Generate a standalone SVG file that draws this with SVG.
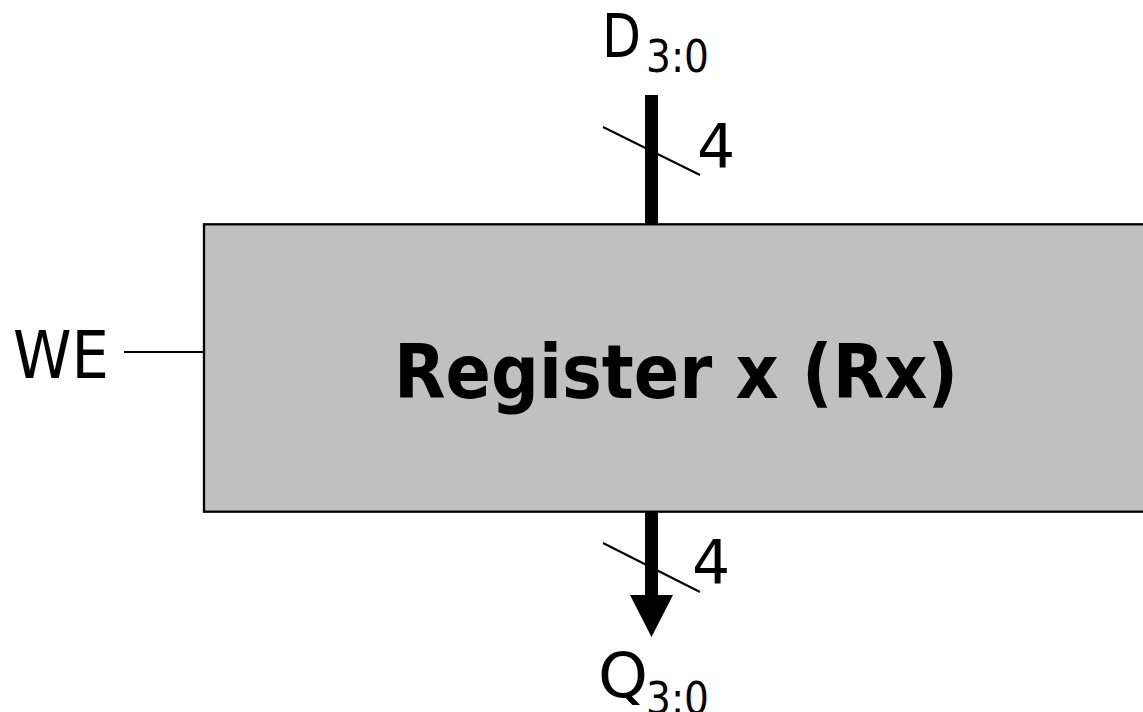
<svg xmlns="http://www.w3.org/2000/svg" width="1143" height="712" viewBox="0 0 1143 712">
  <style>
    .lbl { font-family: "DejaVu Sans", Verdana, sans-serif; fill: #000; }
    .title { font-family: "DejaVu Sans", Verdana, sans-serif; font-weight: bold; fill: #000; }
    .bus { stroke: #000; stroke-width: 13; fill: none; }
    .thin { stroke: #000; stroke-width: 2; fill: none; }
  </style>
  <rect width="1143" height="712" fill="#fff"/>
  <g id="register">
    <rect x="204" y="224.3" width="1000" height="287.4" fill="#C0C0C0" stroke="#000" stroke-width="2.3"/>
    <text class="title" x="676" y="398" font-size="75" text-anchor="middle" textLength="564" lengthAdjust="spacingAndGlyphs">Register x (Rx)</text>
  </g>
  <g id="connectors">
    <line class="bus" x1="651.5" y1="95" x2="651.5" y2="224"/>
    <line class="thin" x1="603" y1="127" x2="700" y2="175"/>
    <line class="bus" x1="651.5" y1="512" x2="651.5" y2="597"/>
    <polygon points="630,595 673,595 651.5,637" fill="#000"/>
    <line class="thin" x1="603" y1="543" x2="700" y2="592"/>
    <line class="thin" x1="124" y1="352" x2="204" y2="352"/>
  </g>
  <g id="label-D">
    <text class="lbl" x="602" y="57" font-size="60" textLength="39" lengthAdjust="spacingAndGlyphs">D</text>
    <text class="lbl" x="646" y="72" font-size="44" textLength="63" lengthAdjust="spacingAndGlyphs">3:0</text>
  </g>
  <g id="label-width-top">
    <text class="lbl" x="697" y="167" font-size="60">4</text>
  </g>
  <g id="label-width-bottom">
    <text class="lbl" x="692" y="583" font-size="60">4</text>
  </g>
  <g id="label-Q">
    <text class="lbl" x="598" y="697" font-size="62" textLength="50" lengthAdjust="spacingAndGlyphs">Q</text>
    <text class="lbl" x="646" y="714" font-size="44" textLength="63" lengthAdjust="spacingAndGlyphs">3:0</text>
  </g>
  <g id="label-WE">
    <text class="lbl" x="13" y="378" font-size="66" textLength="96" lengthAdjust="spacingAndGlyphs">WE</text>
  </g>
</svg>
